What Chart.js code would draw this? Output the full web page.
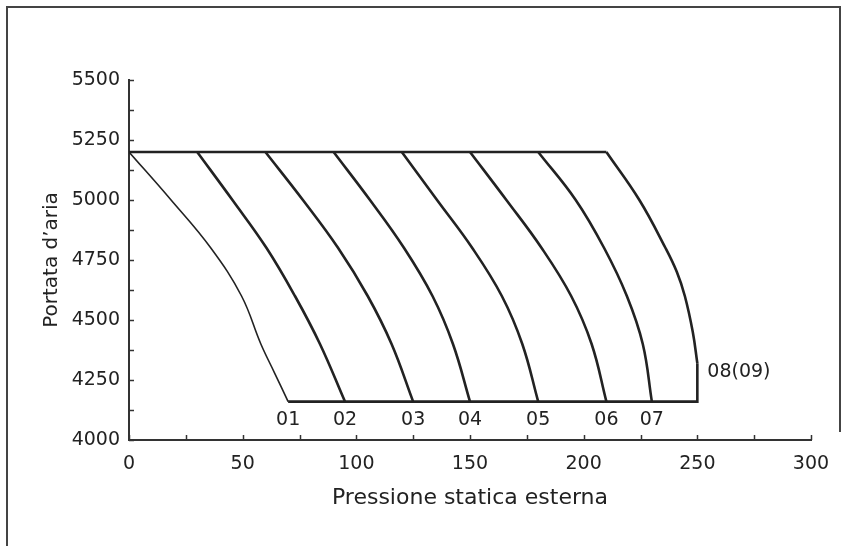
<!DOCTYPE html>
<html>
<head>
<meta charset="utf-8">
<script src="https://cdn.jsdelivr.net/npm/chart.js@4"></script>
<style>
  html, body { margin: 0; padding: 0; background: #fff; }
  #wrap { width: 847px; height: 546px; }
</style>
</head>
<body>
<div id="wrap"><canvas id="fanChart" width="847" height="546"></canvas></div>
<script>
// Fan curves: external static pressure (x) vs air flow (y)
let curveNames = ['01', '02', '03', '04', '05', '06', '07', '08(09)'];
let curve01 = [[0, 5200], [18.5, 5000], [36, 4800], [49.5, 4600], [58, 4400], [64, 4280], [70, 4160]];
let curve02 = [[30, 5200], [45.5, 5000], [60.5, 4800], [73, 4600], [84, 4400], [95, 4160]];
let curve03 = [[60, 5200], [76.5, 5000], [92, 4800], [105, 4600], [115.5, 4400], [125, 4160]];
let curve04 = [[90, 5200], [106, 5000], [121, 4800], [133.5, 4600], [142.5, 4400], [150, 4160]];
let curve05 = [[120, 5200], [135.5, 5000], [151, 4800], [164, 4600], [173, 4400], [180, 4160]];
let curve06 = [[150, 5200], [166, 5000], [181.5, 4800], [194.5, 4600], [203.5, 4400], [210, 4160]];
let curve07 = [[180, 5200], [196.5, 5000], [209, 4800], [219, 4600], [226, 4400], [230, 4160]];
let curve08 = [[210, 5200], [224.5, 5000], [236, 4800], [241, 4700], [244.5, 4600], [248, 4450], [250, 4320]];
let topLimit = [[0, 5200], [210, 5200]];
let bottomLimit = [[70, 4160], [250, 4160], [250, 4320]];

let xTicks = [0, 50, 100, 150, 200, 250, 300];
let yTicks = [4000, 4250, 4500, 4750, 5000, 5250, 5500];

let curves = [curve01, curve02, curve03, curve04, curve05, curve06, curve07, curve08];
let toPoints = (arr) => arr.map(p => ({x: p[0], y: p[1]}));
let ink = '#222';
let family = '"DejaVu Sans", "Noto Sans", sans-serif';

let datasets = curves.map((c, i) => ({
  label: curveNames[i],
  data: toPoints(c),
  borderColor: ink,
  borderWidth: i === 0 ? 1.6 : 2.6,
  tension: 0.4,
  pointRadius: 0
}));
datasets.push({ label: 'top', data: toPoints(topLimit), borderColor: ink, borderWidth: 2.6, tension: 0, pointRadius: 0 });
datasets.push({ label: 'bottom', data: toPoints(bottomLimit), borderColor: ink, borderWidth: 2.6, tension: 0, pointRadius: 0 });

// short tick marks pointing into the plot, like the printed chart
let innerTicks = {
  id: 'innerTicks',
  afterDraw(chart) {
    let {ctx, scales: {x, y}} = chart;
    ctx.save();
    ctx.strokeStyle = '#333';
    ctx.lineWidth = 1.5;
    x.ticks.forEach(t => {
      let px = Math.round(x.getPixelForValue(t.value)) + 0.5;
      ctx.beginPath(); ctx.moveTo(px, y.bottom); ctx.lineTo(px, y.bottom - 5); ctx.stroke();
    });
    y.ticks.forEach(t => {
      let py = Math.round(y.getPixelForValue(t.value)) + 0.5;
      ctx.beginPath(); ctx.moveTo(x.left, py); ctx.lineTo(x.left + 5, py); ctx.stroke();
    });
    ctx.restore();
  }
};

// curve names at the end of each curve
let curveLabels = {
  id: 'curveLabels',
  afterDatasetsDraw(chart) {
    let {ctx, scales: {x, y}} = chart;
    ctx.save();
    ctx.fillStyle = ink;
    ctx.font = '19px ' + family;
    ctx.textBaseline = 'middle';
    curves.forEach((c, i) => {
      let last = c[c.length - 1];
      let px = x.getPixelForValue(last[0]);
      let py = y.getPixelForValue(last[1]);
      if (i === curves.length - 1) {
        ctx.textAlign = 'left';
        ctx.fillText(curveNames[i], px + 10, py + 9);
      } else {
        ctx.textAlign = 'center';
        ctx.fillText(curveNames[i], px, py + 18);
      }
    });
    ctx.restore();
  }
};

// thin frame around the figure
let frame = {
  id: 'frame',
  beforeDraw(chart) {
    let ctx = chart.ctx;
    ctx.save();
    ctx.strokeStyle = '#444';
    ctx.lineWidth = 2;
    ctx.beginPath();
    ctx.moveTo(7, 546);
    ctx.lineTo(7, 7);
    ctx.lineTo(840, 7);
    ctx.lineTo(840, 432);
    ctx.stroke();
    ctx.restore();
  }
};

let ctx = document.getElementById('fanChart').getContext('2d');
// eslint-disable-next-line no-unused-vars
let fanChart = new Chart(ctx, {
  type: 'scatter',
  data: { datasets: datasets },
  plugins: [frame, innerTicks, curveLabels],
  options: {
    responsive: false,
    animation: false,
    showLine: true,
    layout: { padding: { top: 80, right: 36, bottom: 0, left: 0 } },
    plugins: { legend: { display: false }, tooltip: { enabled: false } },
    scales: {
      x: {
        type: 'linear',
        min: 0,
        max: 300,
        afterFit: (s) => { s.height = 106; },
        ticks: {
          stepSize: 25,
          autoSkip: false,
          maxRotation: 0,
          padding: 13,
          color: ink,
          font: { family: family, size: 19 },
          callback: (v) => xTicks.includes(v) ? String(v) : ''
        },
        grid: { display: false, drawTicks: false },
        border: { display: true, color: '#333', width: 2 },
        title: {
          display: true,
          text: 'Pressione statica esterna',
          color: ink,
          font: { family: family, size: 22 },
          padding: { top: 0, bottom: 35 }
        }
      },
      y: {
        type: 'linear',
        min: 4000,
        max: 5500,
        afterFit: (s) => { s.width = 129; },
        ticks: {
          stepSize: 125,
          autoSkip: false,
          padding: 9,
          color: ink,
          font: { family: family, size: 19 },
          callback: (v) => yTicks.includes(v) ? String(v) : ''
        },
        grid: { display: false, drawTicks: false },
        border: { display: true, color: '#333', width: 2 },
        title: {
          display: true,
          text: 'Portata d\u2019aria',
          color: ink,
          font: { family: family, size: 20 },
          padding: { top: 40, bottom: 0 }
        }
      }
    }
  }
});
</script>
</body>
</html>
